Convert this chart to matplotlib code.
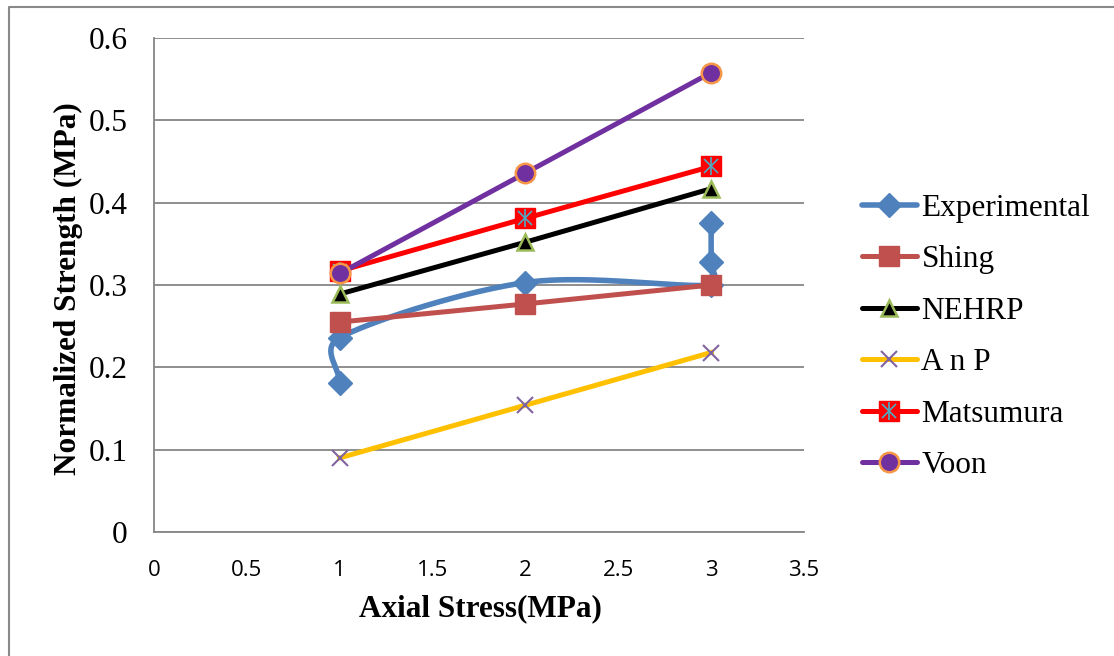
import numpy as np
import matplotlib
matplotlib.use("Agg")
import matplotlib.pyplot as plt
from matplotlib.lines import Line2D
from matplotlib.legend_handler import HandlerTuple

# ---- data ----
exp_x = [1, 1, 2, 3, 3, 3]
exp_y = [0.181, 0.236, 0.303, 0.300, 0.328, 0.375]
x_common = [1, 2, 3]
shing_y = [0.255, 0.277, 0.300]
nehrp_y = [0.289, 0.352, 0.417]
anp_y = [0.090, 0.154, 0.218]
mats_y = [0.317, 0.381, 0.444]
voon_y = [0.314, 0.436, 0.558]
labels = ["Experimental", "Shing", "NEHRP", "A n P", "Matsumura", "Voon"]
xticks = [0, 0.5, 1, 1.5, 2, 2.5, 3, 3.5]
xticklabels = ["0", "0.5", "1", "1.5", "2", "2.5", "3", "3.5"]
yticks = [0, 0.1, 0.2, 0.3, 0.4, 0.5, 0.6]
yticklabels = ["0", "0.1", "0.2", "0.3", "0.4", "0.5", "0.6"]

W, H = 1114, 656
fig = plt.figure(figsize=(W / 100, H / 100), dpi=100)
ax = fig.add_axes([154 / W, 1 - 532 / H, (804 - 154) / W, (532 - 38) / H])
ax.set_xlim(0, 3.5)
ax.set_ylim(0, 0.6)

serif = "Liberation Serif"
grid_c = "#868686"

for s in ["top", "right"]:
    ax.spines[s].set_visible(False)
for s in ["left", "bottom"]:
    ax.spines[s].set_color(grid_c)
    ax.spines[s].set_linewidth(1.3)
ax.set_yticks(yticks)
ax.set_yticklabels(yticklabels, fontfamily=serif, fontsize=22.5)
ax.set_xticks(xticks)
ax.set_xticklabels(xticklabels, fontfamily="Open Sans", fontsize=16)
ax.tick_params(axis="y", length=0, pad=19)
ax.tick_params(axis="x", length=0, pad=20)
ax.yaxis.grid(True, color=grid_c, linewidth=1.3)
ax.set_axisbelow(True)


# ---- smoothed experimental line (Excel-style Bezier, capped control points) ----
def smooth_curve(xs, ys, n=50):
    P = ax.transData.transform(np.column_stack([xs, ys]))
    m = len(P)
    out = []
    for i in range(m - 1):
        p0 = P[i - 1] if i > 0 else P[i]
        p1 = P[i]
        p2 = P[i + 1]
        p3 = P[i + 2] if i + 2 < m else P[i + 1]
        d12 = np.linalg.norm(p2 - p1)
        v1 = p2 - p0
        v2 = p3 - p1
        f1 = 1 / 3 if i == 0 else 1 / 6
        f2 = 1 / 3 if i + 2 >= m else 1 / 6
        t1 = v1 * f1
        t2 = v2 * f2
        if np.linalg.norm(t1) > d12 / 2:
            t1 = v1 / np.linalg.norm(v1) * d12 / 2
        if np.linalg.norm(t2) > d12 / 2:
            t2 = v2 / np.linalg.norm(v2) * d12 / 2
        c1 = p1 + t1
        c2 = p2 - t2
        t = np.linspace(0, 1, n)[:, None]
        seg = ((1 - t) ** 3) * p1 + 3 * ((1 - t) ** 2) * t * c1 + 3 * (1 - t) * t ** 2 * c2 + t ** 3 * p2
        out.append(seg if i == 0 else seg[1:])
    pts = np.vstack(out)
    return ax.transData.inverted().transform(pts)


c_exp = "#4F81BD"
c_shing = "#C0504D"
c_anp = "#FFC000"
c_mats = "#FF0000"
c_voon = "#7030A0"

sc = smooth_curve(exp_x, exp_y)
ax.plot(sc[:, 0], sc[:, 1], color=c_exp, lw=4, solid_capstyle="round",
        solid_joinstyle="round", zorder=3)
ax.plot(exp_x, exp_y, ls="none", marker="D", ms=12, color=c_exp, zorder=3)

ax.plot(x_common, shing_y, color=c_shing, lw=3.6, marker="s", ms=14,
        mfc=c_shing, mec=c_shing, zorder=4)
ax.plot(x_common, nehrp_y, color="black", lw=3.6, marker="^", ms=12,
        mfc="black", mec="#9BBB59", mew=1.8, zorder=5)
ax.plot(x_common, anp_y, color=c_anp, lw=3.6, zorder=6)
ax.plot(x_common, anp_y, ls="none", marker="x", ms=12, mec="#8064A2", mew=1.5, zorder=6)
ax.plot(x_common, mats_y, color=c_mats, lw=3.6, marker="s", ms=14,
        mfc=c_mats, mec=c_mats, zorder=7)
ax.plot(x_common, mats_y, ls="none", marker="x", ms=10, mec="#4BACC6", mew=1.2, zorder=7)
ax.plot(x_common, mats_y, ls="none", marker="|", ms=13, mec="#4BACC6", mew=1.2, zorder=7)
ax.plot(x_common, voon_y, color=c_voon, lw=3.6, marker="o", ms=14,
        mfc=c_voon, mec="#F79646", mew=1.8, zorder=8)

# ---- legend ----
h_exp = Line2D([], [], color=c_exp, lw=4, marker="D", ms=12, solid_capstyle="round")
h_shing = Line2D([], [], color=c_shing, lw=3.6, marker="s", ms=14, solid_capstyle="round")
h_nehrp = Line2D([], [], color="black", lw=3.6, marker="^", ms=12, mfc="black",
                 mec="#9BBB59", mew=1.8, solid_capstyle="round")
h_anp = (Line2D([], [], color=c_anp, lw=3.6, solid_capstyle="round"),
         Line2D([], [], ls="none", marker="x", ms=12, mec="#8064A2", mew=1.5))
h_mats = (Line2D([], [], color=c_mats, lw=3.6, marker="s", ms=14, solid_capstyle="round"),
          Line2D([], [], ls="none", marker="x", ms=10, mec="#4BACC6", mew=1.2),
          Line2D([], [], ls="none", marker="|", ms=13, mec="#4BACC6", mew=1.2))
h_voon = Line2D([], [], color=c_voon, lw=3.6, marker="o", ms=14, mfc=c_voon,
                mec="#F79646", mew=1.8, solid_capstyle="round")
fig.legend([h_exp, h_shing, h_nehrp, h_anp, h_mats, h_voon], labels,
           handler_map={tuple: HandlerTuple(ndivide=1, pad=0)},
           loc="center left", bbox_to_anchor=(862 / W, 1 - 337 / H),
           frameon=False, prop={"family": serif, "size": 22.5},
           handlelength=1.75, handletextpad=0.15, labelspacing=0.72,
           borderpad=0, borderaxespad=0)

# ---- axis titles ----
fig.text(480 / W, 1 - 609 / H, "Axial Stress(MPa)", ha="center", va="center",
         fontfamily=serif, fontweight="bold", fontsize=22.5)
fig.text(68 / W, 1 - 289 / H, "Normalized Strength (MPa)", ha="center", va="center",
         rotation=90, fontfamily=serif, fontweight="bold", fontsize=22.5)

# ---- outer chart border ----
fig.add_artist(Line2D([9 / W, 9 / W, 1.0], [0.0, 1 - 7 / H, 1 - 7 / H],
                      transform=fig.transFigure, color="#898989", lw=1.5))

fig.savefig("out.png", dpi=100)
